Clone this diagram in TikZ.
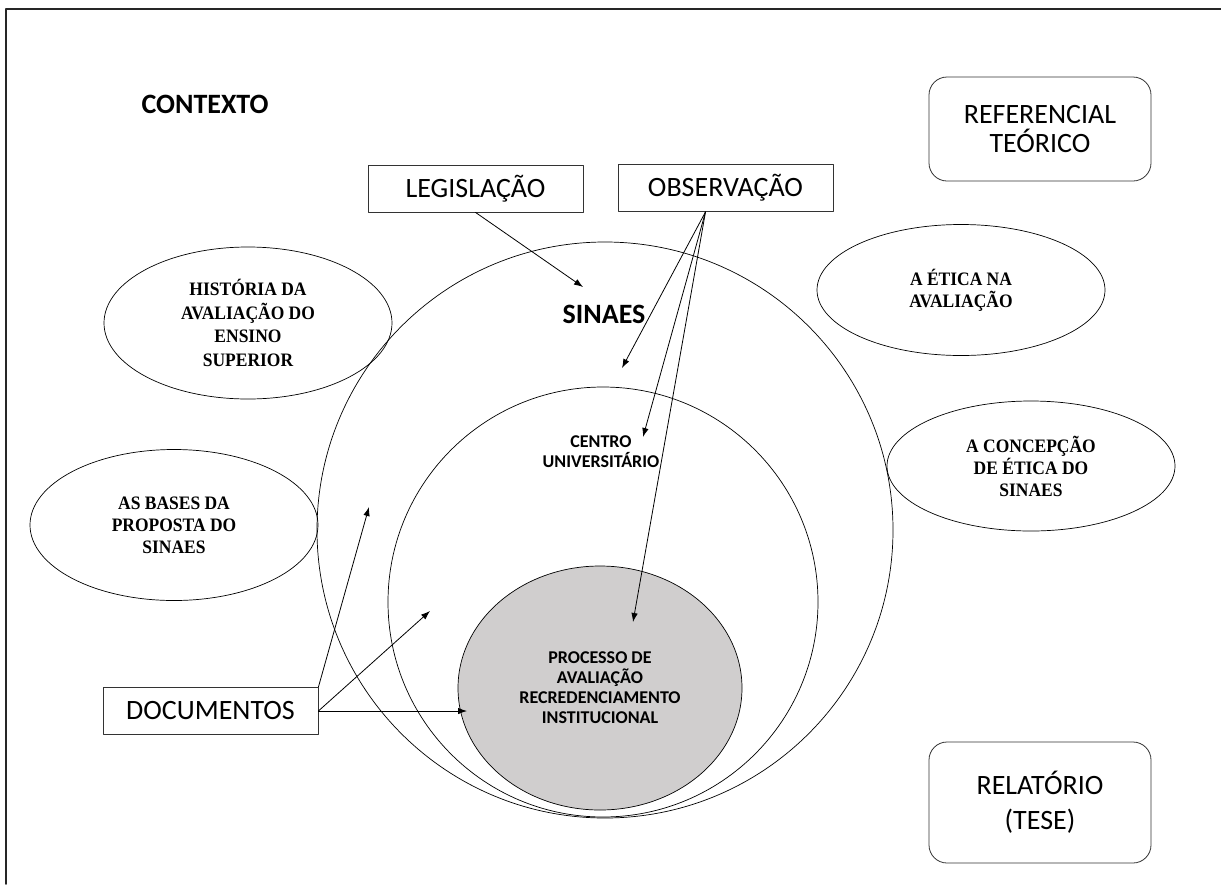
\documentclass[tikz,border=0pt]{standalone}
\usepackage{fontspec}
\setmainfont{Carlito}
\newfontfamily\timesfont{Liberation Serif}[FakeStretch=0.92]
\usetikzlibrary{arrows.meta, shapes.geometric}
\definecolor{procgray}{RGB}{208,206,206}

\begin{document}
\begin{tikzpicture}[x=1pt, y=-1pt, >={Latex[length=9pt,width=6.5pt]}, line cap=round, line join=round,
	textbox/.style={draw=black!80, line width=0.8pt, rectangle, minimum width=215pt, minimum height=47pt, inner sep=0pt, font=\fontsize{28}{30}\selectfont},
	roundbox/.style={draw=black!80, line width=0.8pt, rounded corners=18pt, minimum width=222pt, inner sep=0pt, align=center},
	topic/.style={draw, line width=0.7pt, ellipse, inner sep=0pt, minimum width=288pt, align=center, font=\timesfont\bfseries\fontsize{19}{22}\selectfont},
	ring/.style={draw, line width=0.7pt, circle, inner sep=0pt},
	inlabel/.style={align=center, font=\bfseries\fontsize{18}{20}\selectfont},
	conn/.style={->, line width=0.8pt}]
\useasboundingbox (0,0) rectangle (1221,884);
% frame
\draw[line width=1.6pt, black!85] (6,884) -- (6,9) -- (1221,9);

%========================
% nested circles
%========================
\node[ring, minimum size=576pt] (sinaescirc) at (605,530) {};
\node[ring, minimum size=430pt] (centrocirc) at (603,602) {};
\node[draw, line width=0.7pt, ellipse, fill=procgray, minimum width=284pt, minimum height=244pt, inner sep=0pt,
	inlabel] (proc) at (600,688) {PROCESSO DE\\AVALIAÇÃO\\RECREDENCIAMENTO\\INSTITUCIONAL};
\node[font=\bfseries\fontsize{28}{30}\selectfont] (sinaes) at (604,314) {SINAES};
\node[inlabel] (centro) at (601,452) {CENTRO\\UNIVERSITÁRIO};

% headings
\node[font=\bfseries\fontsize{28}{30}\selectfont] (contexto) at (205,104) {CONTEXTO};
\node[roundbox, minimum height=104pt, font=\fontsize{28}{29}\selectfont] (referencial) at (1040,129) {REFERENCIAL\\TEÓRICO};
\node[roundbox, minimum height=121pt, font=\fontsize{28}{35}\selectfont] (relatorio) at (1040,802.5) {RELATÓRIO\\(TESE)};

%========================
% topics round the circles
%========================
\node[topic, minimum height=152pt, font=\timesfont\bfseries\fontsize{19}{23.5}\selectfont] (historia) at (248,323) {HISTÓRIA DA\\AVALIAÇÃO DO\\ENSINO\\SUPERIOR};
\node[topic, minimum height=151pt] (bases) at (174,525) {AS BASES DA\\PROPOSTA DO\\SINAES};
\node[topic, minimum height=131pt] (etica) at (961,290) {A ÉTICA NA\\AVALIAÇÃO};
\node[topic, minimum height=130pt] (concepcao) at (1031,466) {A CONCEPÇÃO\\DE ÉTICA DO\\SINAES};

%========================
% sources and arrows
%========================
\node[textbox] (legis) at (475.5,188.5) {LEGISLAÇÃO};
\node[textbox] (obs) at (725.5,188) {OBSERVAÇÃO};
\node[textbox] (docs) at (210.5,711) {DOCUMENTOS};

\coordinate (obsfoot) at ([xshift=-20pt]obs.south);
\coordinate (tipL) at (583,287);
\coordinate (tipO1) at (622,368);
\coordinate (tipO2) at (643,437);
\coordinate (tipO3) at (633,622);
\coordinate (tipD1) at (369,507);
\coordinate (tipD2) at (430,611);
\coordinate (tipD3) at (467,711);

\draw[conn] (legis.south) -- (tipL);
\draw[conn] (obsfoot) -- (tipO1);
\draw[conn] (obsfoot) -- (tipO2);
\draw[conn] (obsfoot) -- (tipO3);
\draw[conn] (docs.north east) -- (tipD1);
\draw[conn] (docs.east) -- (tipD2);
\draw[conn] (docs.east) -- (tipD3);
\end{tikzpicture}
\end{document}
